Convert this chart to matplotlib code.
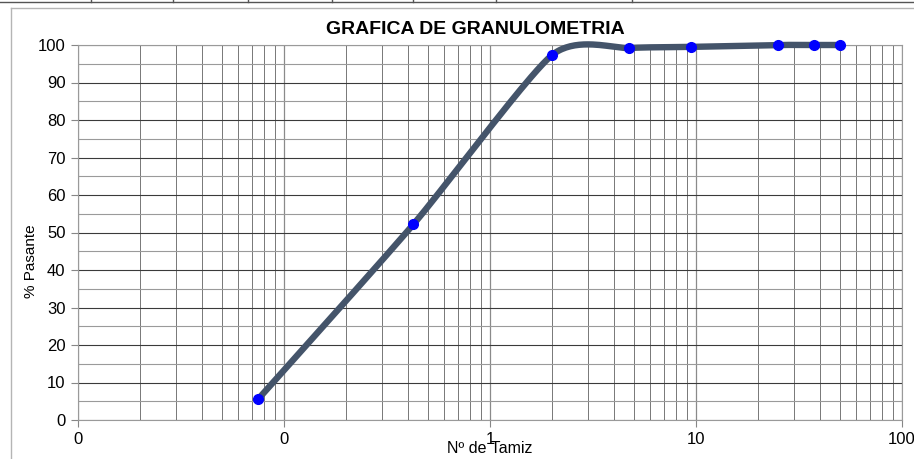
import numpy as np
import matplotlib
matplotlib.use('Agg')
import matplotlib.pyplot as plt
from matplotlib.lines import Line2D
from matplotlib.ticker import FixedLocator, FixedFormatter, MultipleLocator

plt.rcParams['font.family'] = ['Liberation Sans', 'DejaVu Sans']

# abertura de tamiz (mm) y % pasante
tamiz = [0.075, 0.425, 2.0, 4.75, 9.5, 25.0, 37.5, 50.0]
pasante = [5.6, 52.2, 97.3, 99.2, 99.5, 100.0, 100.0, 100.0]

x_ticks = [0.01, 0.1, 1, 10, 100]
x_tick_labels = ['0', '0', '1', '10', '100']
y_ticks = [0, 10, 20, 30, 40, 50, 60, 70, 80, 90, 100]


def suavizar(xs, ys, k=1 / 9.0, n=40):
    # curva suavizada tipo Excel (bezier en espacio log)
    lx = np.log10(xs)
    p = np.column_stack([lx, ys])
    p = np.vstack([p[0], p, p[-1]])
    out = []
    for i in range(1, len(p) - 2):
        p0, p1, p2, p3 = p[i - 1], p[i], p[i + 1], p[i + 2]
        b1 = p1 + (p2 - p0) * k
        b2 = p2 - (p3 - p1) * k
        t = np.linspace(0, 1, n)[:, None]
        seg = ((1 - t) ** 3) * p1 + 3 * ((1 - t) ** 2) * t * b1 + 3 * (1 - t) * t ** 2 * b2 + t ** 3 * p2
        out.append(seg)
    c = np.vstack(out)
    return 10 ** c[:, 0], c[:, 1]


fig = plt.figure(figsize=(9.14, 4.59), dpi=100)
ax = fig.add_axes([78 / 914, 1 - 420 / 459, 824 / 914, 375 / 459])

ax.set_xscale('log')
ax.set_xlim(0.01, 100)
ax.set_ylim(0, 100)

cx, cy = suavizar(tamiz, pasante)
ax.plot(cx, cy, color='#44546A', lw=4.6, solid_capstyle='round', zorder=3, clip_on=False)
ax.plot(tamiz, pasante, 'o', color='#0000FF', ms=7, zorder=4, clip_on=False)

ax.xaxis.set_major_locator(FixedLocator(x_ticks))
ax.xaxis.set_major_formatter(FixedFormatter(x_tick_labels))
ax.xaxis.set_minor_locator(matplotlib.ticker.LogLocator(base=10, subs=np.arange(2, 10)))
ax.xaxis.set_minor_formatter(matplotlib.ticker.NullFormatter())
ax.yaxis.set_major_locator(FixedLocator(y_ticks))
ax.yaxis.set_minor_locator(MultipleLocator(5))

ax.grid(which='major', axis='y', color='#3a3a3a', lw=0.8)
ax.grid(which='minor', axis='y', color='#9a9a9a', lw=0.8)
ax.grid(which='major', axis='x', color='#8a8a8a', lw=0.9)
ax.grid(which='minor', axis='x', color='#777777', lw=0.7)
ax.set_axisbelow(True)

for s in ax.spines.values():
    s.set_color('#9a9a9a')
    s.set_linewidth(0.8)

ax.tick_params(axis='both', which='major', labelsize=12, colors='#000000', length=5, width=0.8, pad=4)
ax.tick_params(axis='both', which='major', color='#868686')
ax.tick_params(axis='both', which='minor', length=0)

fig.text(475 / 914, 1 - 30 / 459, 'GRAFICA DE GRANULOMETRIA', fontsize=14, fontweight='bold',
         ha='center', va='center')
ax.set_ylabel('% Pasante', fontsize=11)
ax.yaxis.set_label_coords(-0.0485, 0.424)
ax.set_xlabel('Nº de Tamiz', fontsize=11.5, labelpad=-5)

# borde del area del grafico y fila de celdas superior
fig.add_artist(Line2D([11 / 914, 11 / 914], [0, 1 - 8 / 459], color='#b5b5b5', lw=1))
fig.add_artist(Line2D([11 / 914, 1], [1 - 8 / 459, 1 - 8 / 459], color='#b5b5b5', lw=1))
fig.add_artist(Line2D([0, 1], [1 - 1.5 / 459, 1 - 1.5 / 459], color='#555555', lw=1))
for cx_ in [91, 173, 248, 332, 413, 496, 632]:
    fig.add_artist(Line2D([cx_ / 914, cx_ / 914], [1 - 2 / 459, 1], color='#555555', lw=1))

fig.savefig('out.png', dpi=100)
